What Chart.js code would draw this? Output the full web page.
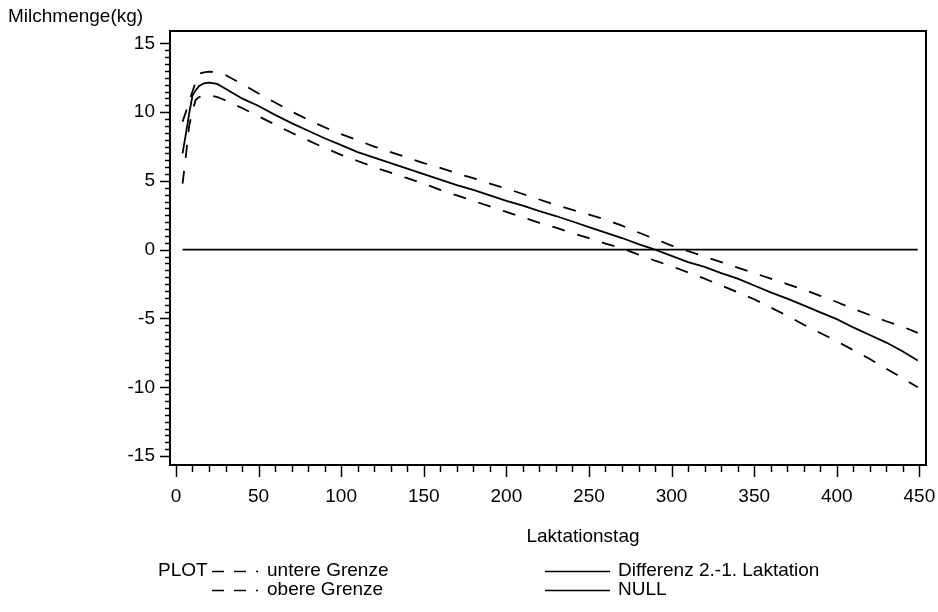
<!DOCTYPE html>
<html><head><meta charset="utf-8">
<script src="https://cdn.jsdelivr.net/npm/chart.js@4/dist/chart.umd.min.js"></script>
<style>html,body{margin:0;padding:0;background:#fff;}#wrap{width:938px;height:612px;position:relative;}canvas{display:block;}</style>
</head><body><div id="wrap"><canvas id="c" width="938" height="612" style="width:938px;height:612px"></canvas></div>
<script>
const days = [4,6,8,10,12,14,17,20,25,30,40,50,60,70,80,90,100,110,120,130,140,150,160,170,180,190,200,210,220,230,240,250,260,270,280,290,300,310,320,330,340,350,360,370,380,390,400,410,420,430,440,449];
const differenz = [7.0,8.4,9.9,11.2,11.6,11.9,12.1,12.15,12.05,11.7,11.0,10.45,9.8,9.2,8.65,8.1,7.6,7.1,6.7,6.3,5.9,5.5,5.1,4.7,4.35,3.95,3.55,3.2,2.8,2.45,2.05,1.65,1.25,0.85,0.4,0.0,-0.45,-0.9,-1.25,-1.7,-2.1,-2.6,-3.1,-3.55,-4.05,-4.55,-5.05,-5.65,-6.2,-6.75,-7.4,-8.05];
const obereGrenze = [9.3,10.0,10.8,11.5,12.2,12.8,12.9,12.95,12.9,12.7,12.05,11.35,10.7,10.05,9.45,8.9,8.4,7.95,7.5,7.1,6.7,6.3,5.95,5.55,5.2,4.8,4.45,4.05,3.65,3.25,2.9,2.55,2.2,1.75,1.25,0.78,0.3,-0.1,-0.5,-0.9,-1.3,-1.7,-2.1,-2.5,-2.9,-3.35,-3.8,-4.3,-4.75,-5.2,-5.6,-6.05];
const untereGrenze = [4.8,6.8,9.0,10.1,10.9,11.1,11.2,11.25,11.1,10.85,10.3,9.7,9.1,8.5,7.95,7.4,6.9,6.45,6.0,5.6,5.2,4.8,4.35,3.95,3.55,3.15,2.75,2.35,1.95,1.6,1.2,0.85,0.45,0.1,-0.35,-0.8,-1.2,-1.65,-2.1,-2.6,-3.1,-3.6,-4.2,-4.8,-5.45,-6.05,-6.65,-7.3,-7.95,-8.65,-9.35,-10.0];
const nullDays = [4, 449];
const nullValues = [0, 0];
const xTickValues = [0,50,100,150,200,250,300,350,400,450];
const yTickValues = [-15,-10,-5,0,5,10,15];
const xTitle = 'Laktationstag';
const yTitle = 'Milchmenge(kg)';
const legendHeader = 'PLOT';
const labels = ['untere Grenze','obere Grenze','Differenz 2.-1. Laktation','NULL'];

const FONT = '"Liberation Sans", Arial, sans-serif';
const toXY = (xs, ys) => xs.map((x, i) => ({x: x, y: ys[i]}));
const DASH = [13, 13];

const framePlugin = {
  id: 'frame',
  afterDraw(chart) {
    const ctx = chart.ctx, a = chart.chartArea;
    const xs = chart.scales.x, ys = chart.scales.y;
    ctx.save();
    ctx.strokeStyle = '#000';
    ctx.lineWidth = 2;
    ctx.strokeRect(a.left, a.top, a.right - a.left, a.bottom - a.top);
    ctx.lineWidth = 1.5;
    for (let v = -15; v <= 15.001; v += 0.5) {
      const p = Math.round(ys.getPixelForValue(v)) + 0.5;
      const major = Math.abs(v % 5) < 1e-6;
      ctx.beginPath();
      ctx.moveTo(a.left, p);
      ctx.lineTo(a.left - (major ? 10 : 5), p);
      ctx.stroke();
    }
    for (let v = 0; v <= 450; v += 10) {
      const p = Math.round(xs.getPixelForValue(v)) + 0.5;
      const major = v % 50 === 0;
      ctx.beginPath();
      ctx.moveTo(p, a.bottom);
      ctx.lineTo(p, a.bottom + (major ? 12 : 7));
      ctx.stroke();
    }
    ctx.fillStyle = '#000';
    ctx.font = '19px ' + FONT;
    ctx.textBaseline = 'middle';
    ctx.textAlign = 'left';
    ctx.fillText(yTitle, 8, 17);
    ctx.textAlign = 'center';
    ctx.fillText(xTitle, (a.left + a.right) / 2 + 35, 537);
    ctx.textAlign = 'left';
    const r1 = 571, r2 = 590;
    ctx.fillText(legendHeader, 158, r1);
    ctx.fillText(labels[0], 267, r1);
    ctx.fillText(labels[1], 267, r2);
    ctx.fillText(labels[2], 618, r1);
    ctx.fillText(labels[3], 618, r2);
    ctx.lineWidth = 1.5;
    [r1, r2].forEach(r => {
      const y = r + 0.5;
      ctx.beginPath(); ctx.moveTo(212, y); ctx.lineTo(224, y); ctx.stroke();
      ctx.beginPath(); ctx.moveTo(234, y); ctx.lineTo(246, y); ctx.stroke();
      ctx.beginPath(); ctx.moveTo(256, y); ctx.lineTo(258, y); ctx.stroke();
      ctx.beginPath(); ctx.moveTo(545, y); ctx.lineTo(610, y); ctx.stroke();
    });
    ctx.restore();
  }
};

new Chart(document.getElementById('c'), {
  type: 'line',
  data: {
    datasets: [
      {label: labels[0], data: toXY(days, untereGrenze), borderDash: DASH},
      {label: labels[1], data: toXY(days, obereGrenze), borderDash: DASH},
      {label: labels[2], data: toXY(days, differenz)},
      {label: labels[3], data: toXY(nullDays, nullValues)}
    ].map(d => Object.assign({borderColor: '#000', borderWidth: 1.8, pointRadius: 0, tension: 0, fill: false}, d))
  },
  options: {
    responsive: false,
    animation: false,
    devicePixelRatio: 1,
    layout: {padding: {left: 0, right: 12, top: 31, bottom: 0}},
    plugins: {legend: {display: false}, tooltip: {enabled: false}},
    scales: {
      x: {
        type: 'linear', min: -3.6, max: 454,
        afterBuildTicks: s => { s.ticks = xTickValues.map(v => ({value: v})); },
        afterFit: s => { s.height = 147; s.paddingLeft = 0; s.paddingRight = 0; },
        grid: {display: false, drawTicks: false},
        border: {display: false},
        ticks: {color: '#000', font: {family: FONT, size: 19}, padding: 20, maxRotation: 0, autoSkip: false}
      },
      y: {
        type: 'linear', min: -15.65, max: 15.9,
        afterBuildTicks: s => { s.ticks = yTickValues.map(v => ({value: v})); },
        afterFit: s => { s.width = 170; s.paddingTop = 0; s.paddingBottom = 0; },
        grid: {display: false, drawTicks: false},
        border: {display: false},
        ticks: {color: '#000', font: {family: FONT, size: 19}, padding: 15}
      }
    }
  },
  plugins: [framePlugin]
});
</script>
</body></html>
